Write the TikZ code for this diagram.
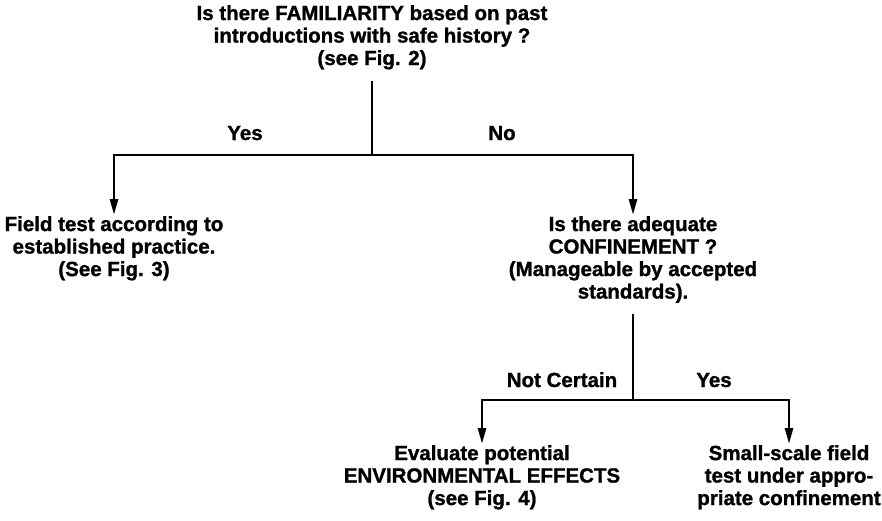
\documentclass[tikz,border=0pt]{standalone}
\usepackage{fontspec}
\setmainfont[BoldFeatures={FakeBold=1.2}]{Liberation Sans}
\usepackage{tikz}
\usetikzlibrary{arrows.meta}

\begin{document}
\begin{tikzpicture}[x=1pt, y=-1pt, text=black,
    >={Triangle[length=16pt,width=8pt]},
    flow/.style={line width=2.8pt},
    step text/.style={align=center, inner sep=1pt, anchor=north,
      font=\fontsize{20.5}{22.5}\selectfont\bfseries},
    answer/.style={anchor=base, inner sep=0pt,
      font=\fontsize{20.5}{22.5}\selectfont\bfseries}]
\useasboundingbox (0,0) rectangle (882,520);

% questions and outcomes
\path (372,4) node (familiarity) [step text]
  {Is there FAMILIARITY based on past\\introductions with safe history ?\\(see Fig. 2)};
\path (114,215) node (fieldtest) [step text]
  {Field test according to\\established practice.\\(See Fig. 3)};
\path (633,215) node (confinement) [step text]
  {Is there adequate\\CONFINEMENT ?\\(Manageable by accepted\\standards).};
\path (482,444) node (evaluate) [step text]
  {Evaluate potential\\ENVIRONMENTAL EFFECTS\\(see Fig. 4)};
\path (789,444) node (smallscale) [step text]
  {Small-scale field\\test under appro-\\priate confinement};

\coordinate (fork1) at (372,155);
\coordinate (fork2) at (633,400);

% first split
\draw [flow, shorten <=10pt] (familiarity.south) -- (fork1);
\draw [flow, ->] (fork1) -| (fieldtest.north);
\draw [flow, ->] (fork1) -| (confinement.north);
\path (245,140) node (yes1) [answer] {Yes};
\path (502,140) node (no1) [answer] {No};

% second split
\draw [flow, shorten <=10pt] (confinement.south) -- (fork2);
\draw [flow, ->] (fork2) -| (evaluate.north);
\draw [flow, ->] (fork2) -| (smallscale.north);
\path (562,387) node (notcertain) [answer] {Not Certain};
\path (714,387) node (yes2) [answer] {Yes};

\end{tikzpicture}
\end{document}
